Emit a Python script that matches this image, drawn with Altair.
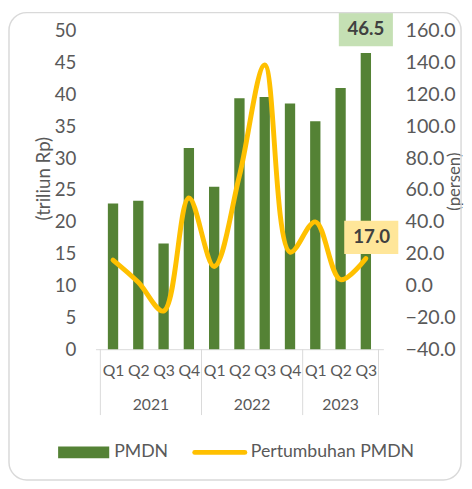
import altair as alt
import pandas as pd

# ---- data ----
years = ["2021", "2021", "2021", "2021", "2022", "2022", "2022", "2022", "2023", "2023", "2023"]
quarters = ["Q1", "Q2", "Q3", "Q4", "Q1", "Q2", "Q3", "Q4", "Q1", "Q2", "Q3"]
pmdn = [22.9, 23.3, 16.6, 31.6, 25.5, 39.4, 39.6, 38.6, 35.8, 41.0, 46.5]
growth = [16.0, 2.0, -16.0, 55.0, 12.0, 69.0, 138.5, 21.0, 40.0, 3.7, 17.0]
left_ticks = [0, 5, 10, 15, 20, 25, 30, 35, 40, 45, 50]
right_ticks = [-40, -20, 0, 20, 40, 60, 80, 100, 120, 140, 160]
legend_labels = ["PMDN", "Pertumbuhan PMDN"]

df = pd.DataFrame({"idx": list(range(len(quarters))), "year": years,
                   "quarter": quarters, "pmdn": pmdn, "growth": growth})
last = df.iloc[[-1]]

# year boundaries (between groups)
bounds = []
for y in dict.fromkeys(years):
    bounds.append(df[df.year == y].idx.min() - 0.5)
bounds.append(df.idx.max() + 0.5)
bdf = pd.DataFrame({"b": bounds})

W, H = 293, 324
FONT = "Lato"
GREY = "#595959"
GREEN = "#548235"
GOLD = "#FFC000"

xscale = alt.Scale(domain=[-0.5, len(quarters) - 0.5], nice=False, zero=False)
q_expr = "[" + ",".join("'%s'" % q for q in quarters) + "][datum.value]"
x_axis = alt.Axis(values=list(range(len(quarters))), labelExpr=q_expr, ticks=False,
                  grid=False, domain=True, domainColor="#d9d9d9", labelPadding=22,
                  labelBaseline="middle", labelFont=FONT, labelFontSize=16,
                  labelColor=GREY, title="", labelAngle=0)

def X(field):
    return alt.X(field, scale=xscale, axis=x_axis, title="")

yl_scale = alt.Scale(domain=[0, 50], nice=False)
yr_scale = alt.Scale(domain=[-40, 160], nice=False)

yl_axis = alt.Axis(values=left_ticks, grid=False, domain=False, ticks=False,
                   labelPadding=20, labelFont=FONT, labelFontSize=19, labelColor=GREY,
                   title="(triliun Rp)", titleFont=FONT, titleFontSize=19,
                   titleFontWeight="normal", titleColor=GREY, titleAngle=270,
                   titleX=-53, titleY=150, titleBaseline="middle", titleAlign="center")
yr_axis = alt.Axis(values=right_ticks, format=".1f", grid=False, domain=False,
                   ticks=False, orient="right", labelPadding=22, labelFont=FONT,
                   labelFontSize=20, labelColor=GREY, title="(persen)",
                   titleFont=FONT, titleFontSize=17, titleFontWeight="normal",
                   titleColor=GREY, titleAngle=270, titleX=72, titleY=153,
                   titleBaseline="middle", titleAlign="center")

def YL(field):
    return alt.Y(field, scale=yl_scale, axis=yl_axis, title="(triliun Rp)")

def YR(field):
    return alt.Y(field, scale=yr_scale, axis=yr_axis, title="(persen)")

base = alt.Chart(df)

bars = base.mark_bar(size=10.5, color=GREEN).encode(x=X("idx:Q"), y=YL("pmdn:Q"))

# 46.5 label box + text
box1 = alt.Chart(last).mark_point(
    shape="M-1,-1.491L1,-1.491L1,-0.255L-1,-0.255Z", size=3025, filled=True,
    color="#C5E0B4", opacity=1, strokeWidth=0).encode(x=X("idx:Q"), y=YL("pmdn:Q"))
txt1 = alt.Chart(last).mark_text(font=FONT, fontSize=19, fontWeight="bold",
                                 color="#404040", dy=-24, baseline="middle").encode(
    x=X("idx:Q"), y=YL("pmdn:Q"), text=alt.Text("pmdn:Q", format=".1f"))

left = alt.layer(bars, box1, txt1)

line = base.mark_line(color=GOLD, strokeWidth=5, interpolate="catmull-rom",
                      strokeCap="round").encode(x=X("idx:Q"), y=YR("growth:Q"))
box2 = alt.Chart(last).mark_point(
    shape="M-0.8,-1.4L1.2,-1.4L1.2,-0.164L-0.8,-0.164Z", size=3025, filled=True,
    color="#FFE699", opacity=1, strokeWidth=0).encode(x=X("idx:Q"), y=YR("growth:Q"))
txt2 = alt.Chart(last).mark_text(font=FONT, fontSize=19, fontWeight="bold",
                                 color="#404040", dx=6, dy=-21.5,
                                 baseline="middle").encode(
    x=X("idx:Q"), y=YR("growth:Q"), text=alt.Text("growth:Q", format=".1f"))

right = alt.layer(line, box2, txt2)

# year labels and dividers
year_txt = base.transform_aggregate(mid="mean(idx)", groupby=["year"]).mark_text(
    font=FONT, fontSize=16, color=GREY, baseline="middle").encode(
    x=X("mid:Q"), y=alt.value(381), text="year:N")
dividers = alt.Chart(bdf).mark_rule(color="#d9d9d9", strokeWidth=1).encode(
    x=X("b:Q"), y=alt.value(H), y2=alt.value(H + 67))

# legend
leg = pd.DataFrame({"label": legend_labels})
leg_rect = alt.Chart(leg).transform_filter(alt.datum.label == legend_labels[0]).mark_rect(
    color=GREEN).encode(x=alt.value(-38), x2=alt.value(14), y=alt.value(423), y2=alt.value(435))
leg_line = alt.Chart(leg).transform_filter(alt.datum.label == legend_labels[1]).mark_rule(
    color=GOLD, strokeWidth=5, strokeCap="round").encode(
    x=alt.value(101), x2=alt.value(152), y=alt.value(429))
leg_t1 = alt.Chart(leg).transform_filter(alt.datum.label == legend_labels[0]).mark_text(
    font=FONT, fontSize=18, color=GREY, align="left", baseline="middle").encode(
    x=alt.value(19), y=alt.value(429), text="label:N")
leg_t2 = alt.Chart(leg).transform_filter(alt.datum.label == legend_labels[1]).mark_text(
    font=FONT, fontSize=18, color=GREY, align="left", baseline="middle").encode(
    x=alt.value(158), y=alt.value(429), text="label:N")

border = alt.Chart(leg).transform_filter(alt.datum.label == legend_labels[0]).mark_rect(
    fill="white", fillOpacity=0, stroke="#d9d9d9", strokeWidth=1.5, cornerRadius=18).encode(
    x=alt.value(-88), x2=alt.value(372), y=alt.value(-18.5), y2=alt.value(457))

chart = alt.layer(left, right, year_txt, dividers,
                  leg_rect, leg_line, leg_t1, leg_t2, border).resolve_scale(
    y="independent").properties(
    width=W, height=H,
    autosize=alt.AutoSizeParams(type="none"),
    padding={"left": 89, "top": 19, "right": 82, "bottom": 137},
    background="white"
).configure_view(stroke=None)

chart.save("out.html", embed_options={"renderer": "svg", "actions": False})
